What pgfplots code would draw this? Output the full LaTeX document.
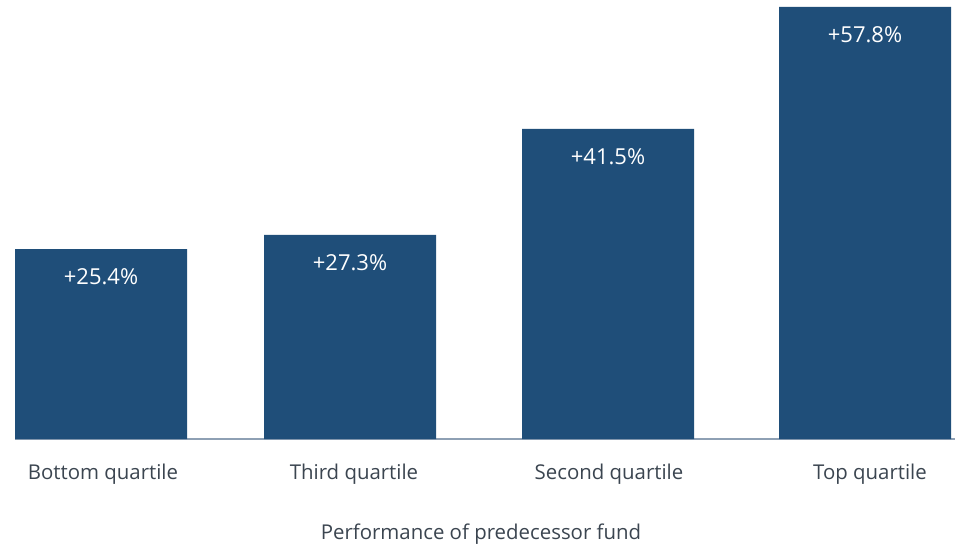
\documentclass[border=0pt]{standalone}
\usepackage{pgfplots}
\pgfplotsset{compat=1.18}
\usepackage{fontspec}
\setmainfont{Open Sans}
\definecolor{barblue}{HTML}{1F4E79}
\definecolor{axisgray}{HTML}{8EA0B4}
\definecolor{txt}{HTML}{3B4550}
\begin{document}
\begin{tikzpicture}[x=1pt,y=1pt]
\path[use as bounding box] (-15pt,-105pt) rectangle (941pt,439pt);
\begin{axis}[
  at={(0pt,0pt)}, anchor=south west,
  scale only axis,
  width=940pt, height=432pt,
  xmin=0, xmax=940,
  ymin=0, ymax=57.8,
  axis x line=bottom, axis y line=none,
  x axis line style={axisgray, line width=1.5pt, -},
  xtick={88,339,594,855},
  xticklabels={Bottom quartile, Third quartile, Second quartile, Top quartile},
  xtick style={draw=none},
  x tick label style={font=\fontsize{20.4}{22}\selectfont, text=txt, yshift=-19pt},
  xlabel={Performance of predecessor fund},
  xlabel style={font=\fontsize{20.4}{22}\selectfont, text=txt, yshift=-33pt, xshift=-4pt},
  ytick=\empty,
  clip=false,
  /pgf/number format/assume math mode=true,
]
\addplot[ybar, bar width=172pt, fill=barblue, draw=none,
  nodes near coords={+\pgfmathprintnumber[fixed,precision=1,fixed zerofill,assume math mode=true]{\pgfplotspointmeta}\%},
  every node near coord/.append style={anchor=center, yshift=-28pt, text=white, font=\fontsize{22}{24}\selectfont}]
  coordinates {(86,25.4) (335,27.3) (593,41.5) (850,57.8)};
\end{axis}
\end{tikzpicture}
\end{document}
